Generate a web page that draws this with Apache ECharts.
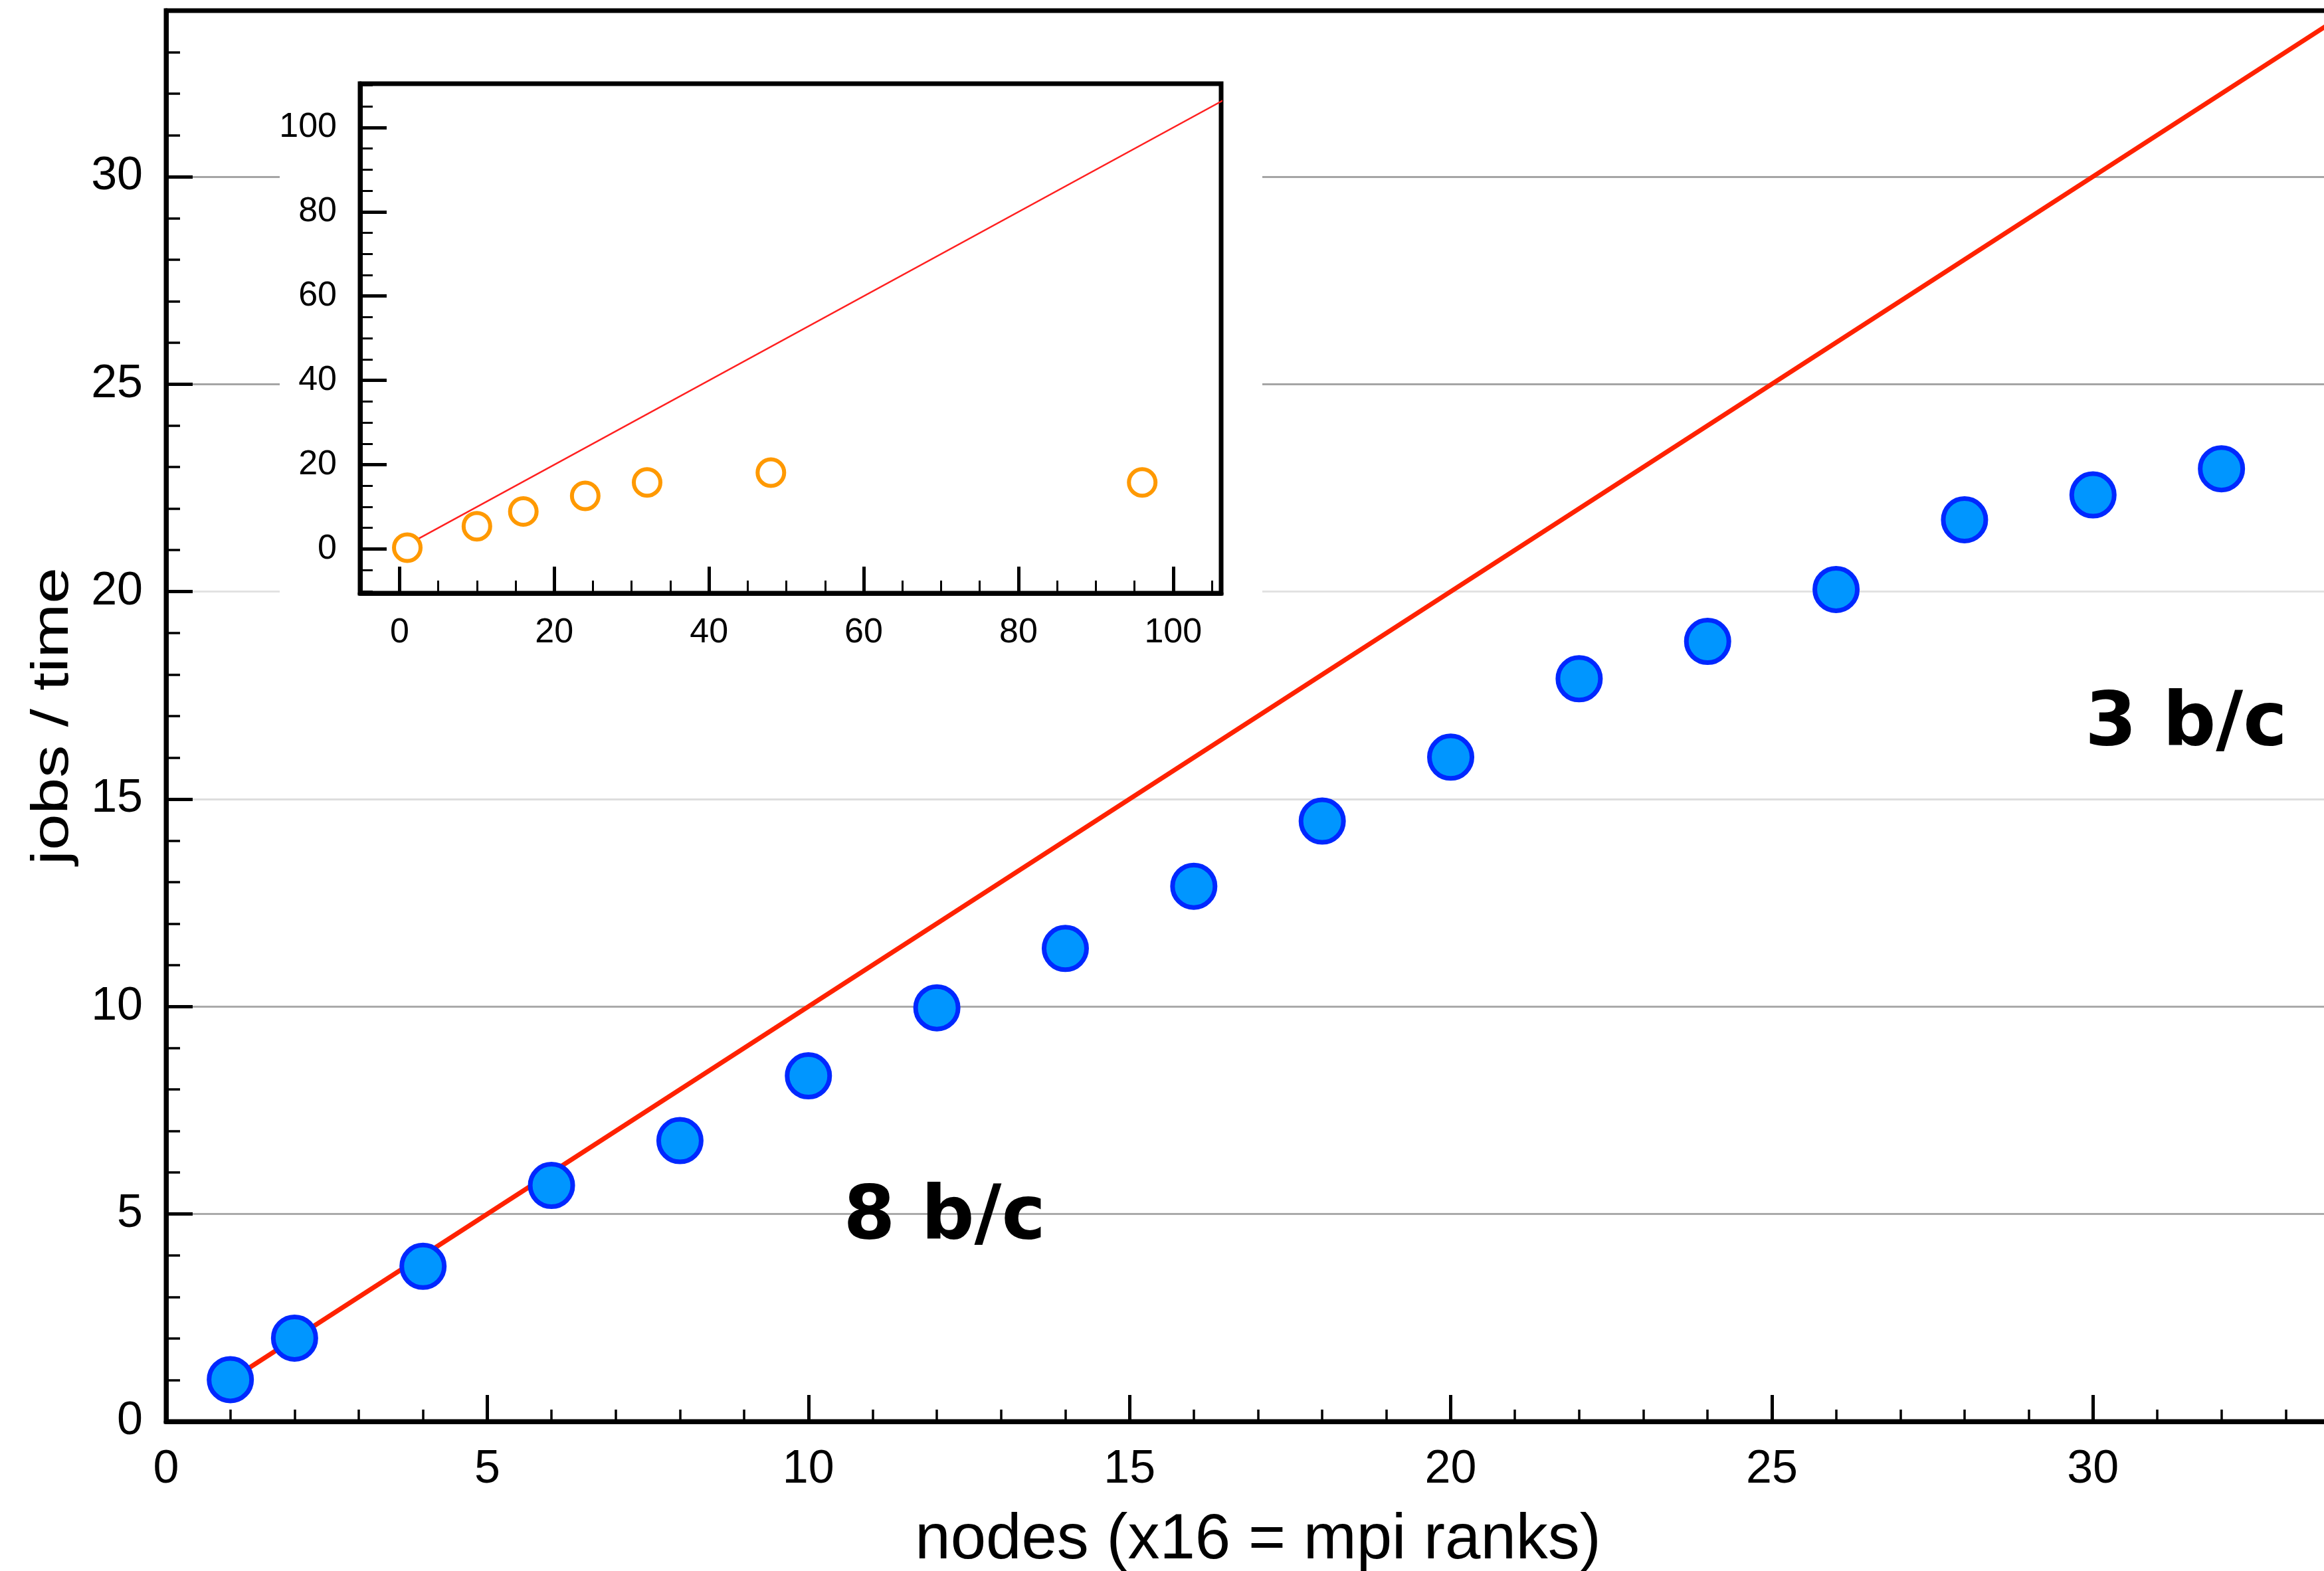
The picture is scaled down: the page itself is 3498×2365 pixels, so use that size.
<!DOCTYPE html>
<html>
<head>
<meta charset="utf-8">
<script src="https://cdn.jsdelivr.net/npm/echarts@6/dist/echarts.min.js"></script>
<style>
html,body{margin:0;padding:0;background:#fff;}
#chart{width:3498px;height:2365px;}
</style>
</head>
<body>
<div id="chart"></div>
<script>
// ---- data ----
const nodes = [1, 2, 4, 6, 8, 10, 12, 14, 16, 18, 20, 22, 24, 26, 28, 30, 32];
const jobsPerTime = [1.01, 2.01, 3.74, 5.69, 6.77, 8.33, 9.97, 11.40, 12.90, 14.47, 16.01, 17.90, 18.80, 20.05, 21.73, 22.33, 22.96];
const idealX = [1, 34];
const idealY = [1, 34];

const insetNodes = [1, 10, 16, 24, 32, 48, 96];
const insetJobs = [0.3, 5.4, 8.9, 12.6, 15.8, 18.1, 15.8];
const insetIdealX = [1, 110];
const insetIdealY = [1, 110];

const annotationText = ['8 b/c', '3 b/c'];
const annotationX = [12.12, 31.45];
const annotationY = [4.88, 16.78];

const mainXTicks = [0, 5, 10, 15, 20, 25, 30];
const mainYTicks = [0, 5, 10, 15, 20, 25, 30];
const insetTicks = [0, 20, 40, 60, 80, 100];

const xName = 'nodes (x16 = mpi ranks)';
const yName = 'jobs / time';

// ---- styles ----
const FONT = "'Liberation Sans', Arial, Helvetica, sans-serif";
const gridLineColors = ['#aaaaaa', '#aaaaaa', '#dddddd', '#e2e2e2', '#a5a5a5', '#a5a5a5'];

const chart = echarts.init(document.getElementById('chart'), null, {renderer: 'canvas'});

const pair = (xs, ys) => xs.map((x, i) => [x, ys[i]]);

const option = {
  backgroundColor: '#ffffff',
  animation: false,
  grid: [
    {left: 250, top: 16, width: 3287, height: 2124, outerBoundsMode: 'none', show: true, borderColor: '#000', borderWidth: 7, backgroundColor: 'transparent', containLabel: false},
    {left: 542, top: 126, width: 1296, height: 767, outerBoundsMode: 'none', show: true, borderColor: '#000', borderWidth: 7, backgroundColor: '#fff', z: 3, containLabel: false}
  ],
  xAxis: [
    {
      gridIndex: 0, type: 'value', min: 0, max: 34, interval: 5,
      axisLine: {show: true, onZero: false, lineStyle: {color: '#000', width: 7}},
      axisTick: {show: true, inside: true, length: 40, lineStyle: {color: '#000', width: 5}},
      minorTick: {show: true, splitNumber: 5, length: 18, lineStyle: {color: '#000', width: 3.5}},
      splitLine: {show: false},
      axisLabel: {show: true, margin: 38, color: '#000', fontSize: 70, fontFamily: FONT, showMaxLabel: false,
        formatter: v => (mainXTicks.indexOf(v) >= 0 ? String(v) : '')},
      name: xName, nameLocation: 'middle', nameGap: 132,
      nameTextStyle: {color: '#000', fontSize: 96, fontFamily: FONT}
    },
    {
      gridIndex: 1, type: 'value', min: -5.1, max: 106.2, splitNumber: 5, z: 4,
      axisLine: {show: true, onZero: false, lineStyle: {color: '#000', width: 7}},
      axisTick: {show: true, inside: true, length: 40, lineStyle: {color: '#000', width: 5}},
      minorTick: {show: true, splitNumber: 4, length: 19, lineStyle: {color: '#000', width: 3}},
      splitLine: {show: false},
      axisLabel: {show: true, margin: 34, color: '#000', fontSize: 52, fontFamily: FONT, showMinLabel: false, showMaxLabel: false,
        formatter: v => (insetTicks.indexOf(v) >= 0 ? String(v) : '')}
    }
  ],
  yAxis: [
    {
      gridIndex: 0, type: 'value', min: 0, max: 34, interval: 5,
      axisLine: {show: true, onZero: false, lineStyle: {color: '#000', width: 7}},
      axisTick: {show: true, inside: true, length: 40, lineStyle: {color: '#000', width: 5}},
      minorTick: {show: true, splitNumber: 5, length: 21, lineStyle: {color: '#000', width: 3.5}},
      splitLine: {show: true, showMinLine: false, showMaxLine: false, lineStyle: {color: gridLineColors, width: 3}},
      axisLabel: {show: true, margin: 35, color: '#000', fontSize: 70, fontFamily: FONT, showMaxLabel: false,
        formatter: v => (mainYTicks.indexOf(v) >= 0 ? String(v) : '')}
    },
    {
      gridIndex: 1, type: 'value', min: -10.5, max: 110.4, splitNumber: 5, z: 4,
      axisLine: {show: true, onZero: false, lineStyle: {color: '#000', width: 7}},
      axisTick: {show: true, inside: true, length: 40, lineStyle: {color: '#000', width: 5}},
      minorTick: {show: true, splitNumber: 4, length: 19, lineStyle: {color: '#000', width: 3}},
      splitLine: {show: false},
      axisLabel: {show: true, margin: 35, color: '#000', fontSize: 52, fontFamily: FONT, showMinLabel: false, showMaxLabel: false,
        formatter: v => (insetTicks.indexOf(v) >= 0 ? String(v) : '')}
    }
  ],
  graphic: [
    {type: 'rect', z: 1, silent: true, shape: {x: 421, y: 40, width: 1479, height: 960}, style: {fill: '#ffffff'}},
    {type: 'text', z: 5, silent: true, x: 80, y: 1078, rotation: Math.PI / 2, scaleX: 1.26, scaleY: 1,
      style: {text: yName, font: "78px 'Liberation Sans', Arial, sans-serif", fill: '#000', textAlign: 'center', textVerticalAlign: 'middle'}}
  ],
  series: [
    {
      type: 'line', xAxisIndex: 0, yAxisIndex: 0, z: 2,
      data: pair(idealX, idealY), showSymbol: false, symbol: 'none', clip: true,
      lineStyle: {color: '#ff2200', width: 7}
    },
    {
      type: 'scatter', xAxisIndex: 0, yAxisIndex: 0, z: 3,
      data: pair(nodes, jobsPerTime), symbol: 'circle', symbolSize: 64,
      itemStyle: {color: '#0096ff', borderColor: '#0028ff', borderWidth: 7, opacity: 1}
    },
    {
      type: 'scatter', xAxisIndex: 0, yAxisIndex: 0, z: 4, silent: true,
      data: annotationText.map((t, i) => ({value: [annotationX[i], annotationY[i]], name: t})),
      symbol: 'circle', symbolSize: 1, itemStyle: {color: 'rgba(0,0,0,0)'},
      label: {show: true, position: 'inside', formatter: p => p.name, color: '#000', opacity: 1,
        fontSize: 112, fontWeight: 'bold', fontFamily: "'DejaVu Sans', sans-serif"}
    },
    {
      type: 'line', xAxisIndex: 1, yAxisIndex: 1, z: 5,
      data: pair(insetIdealX, insetIdealY), showSymbol: false, symbol: 'none', clip: true,
      lineStyle: {color: '#ff2020', width: 2.5}
    },
    {
      type: 'scatter', xAxisIndex: 1, yAxisIndex: 1, z: 6,
      data: pair(insetNodes, insetJobs), symbol: 'circle', symbolSize: 40,
      itemStyle: {color: '#ffffff', borderColor: '#ff9900', borderWidth: 6, opacity: 1}
    }
  ]
};

chart.setOption(option);
</script>
</body>
</html>
